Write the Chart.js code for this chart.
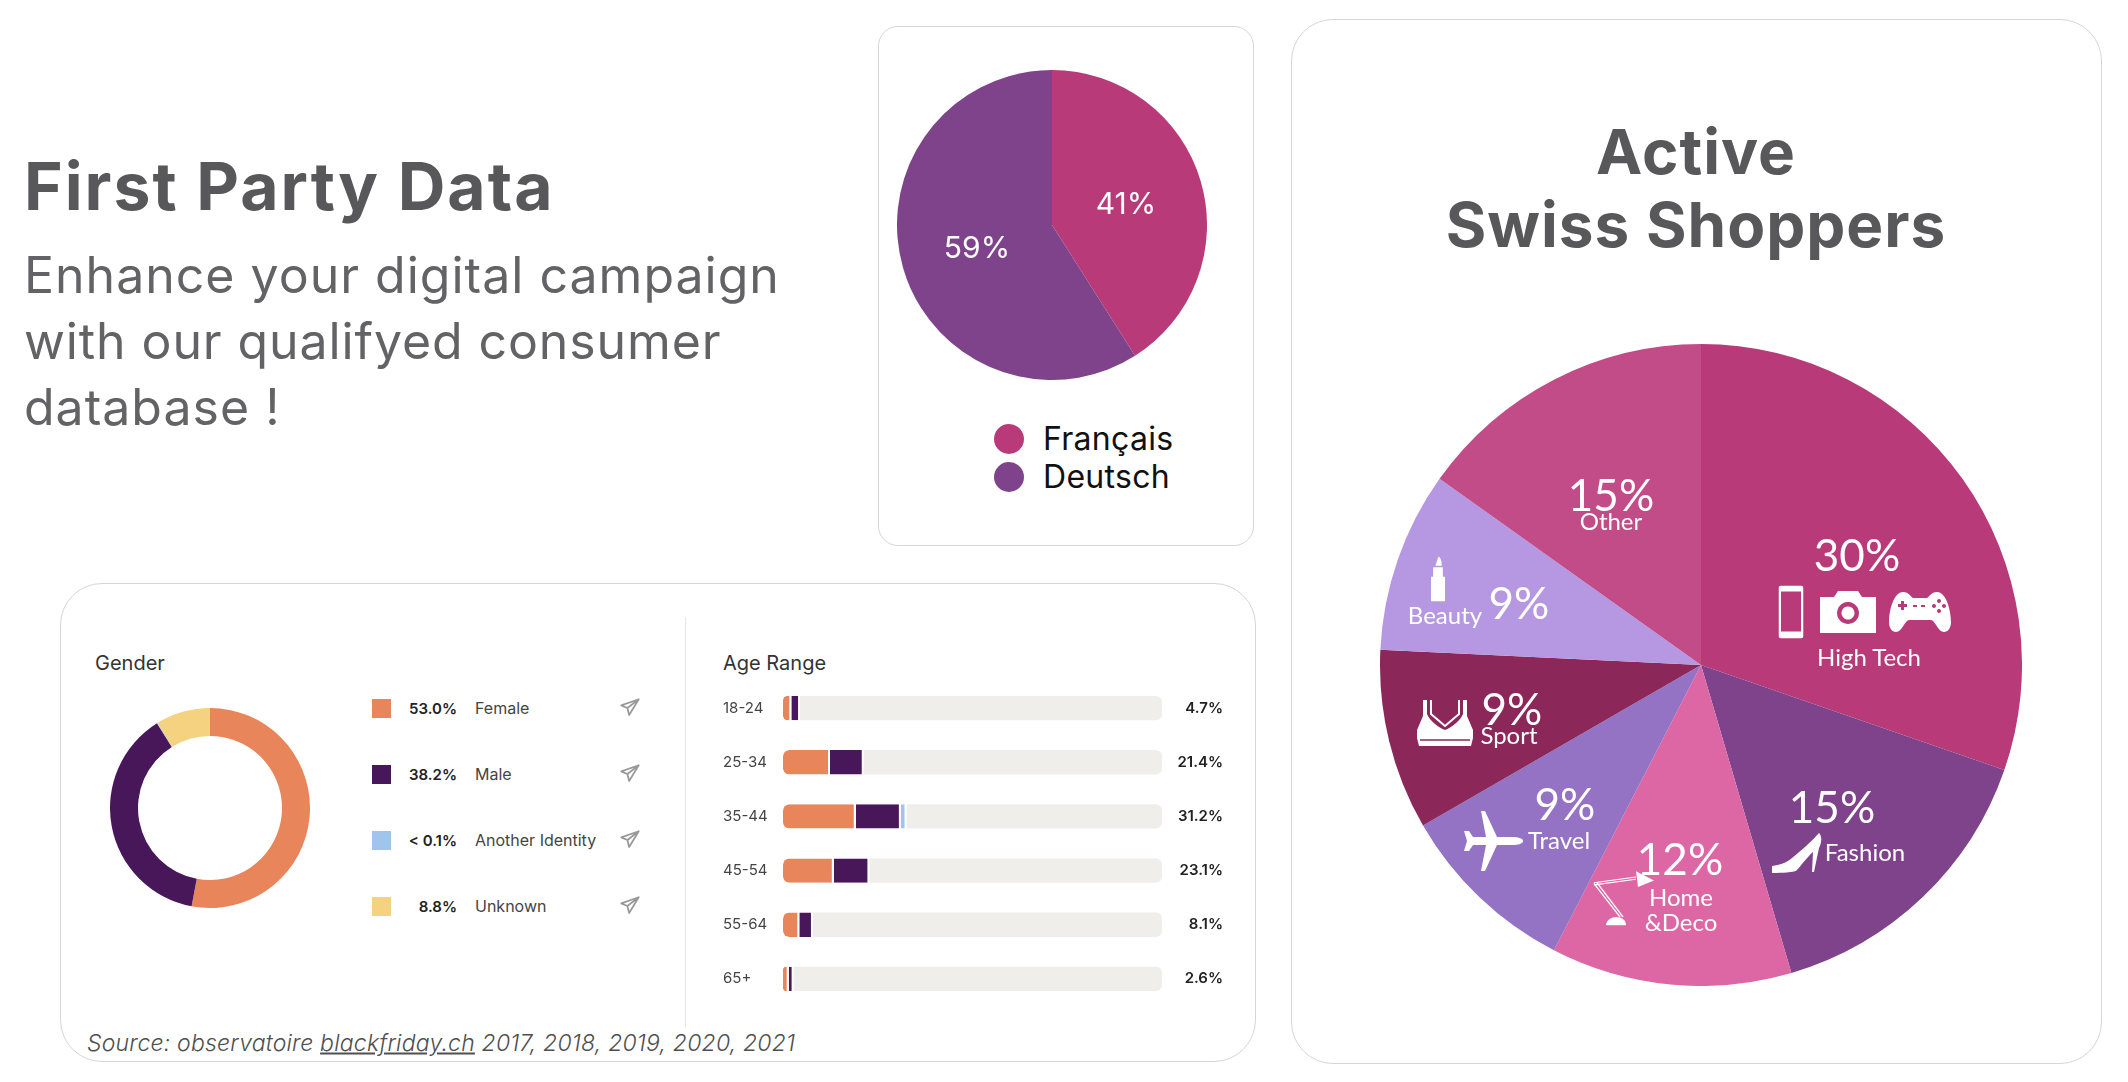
<!DOCTYPE html>
<html>
<head>
<meta charset="utf-8">
<title>First Party Data</title>
<script src="https://cdn.jsdelivr.net/npm/chart.js@4/dist/chart.umd.js"></script>
<style>
  html, body { margin: 0; padding: 0; background: #fff; }
  body { width: 2128px; height: 1082px; position: relative; overflow: hidden; font-family: Inter, sans-serif; }
  .card { position: absolute; box-sizing: border-box; border: 1.5px solid #d6d6d6; background: #fff; }
  canvas { position: absolute; }
  .t { position: absolute; white-space: nowrap; line-height: 1; }
  .c { transform: translate(-50%, -50%); }
  .m { transform: translateY(-50%); }
  .r { transform: translate(-100%, -50%); }
  .big { font-family: Lato, sans-serif; font-weight: 400; color: #fff; }
  .ico { position: absolute; transform: translate(-50%, -50%); fill: #fff; }
</style>
</head>
<body>
<div class="card" style="left:878px;top:26px;width:376px;height:520px;border-radius:20px"></div>
<div class="card" style="left:1291px;top:19px;width:811px;height:1045px;border-radius:42px"></div>
<div class="card" style="left:60px;top:583px;width:1196px;height:479px;border-radius:42px"></div>
<div style="position:absolute;left:685px;top:617px;width:1px;height:410px;background:#e6e6e6"></div>

<div class="t m" style="left:24px;top:186px;font-size:66px;font-weight:700;color:#58585a;letter-spacing:2px">First Party Data</div>
<div class="t m" style="left:24px;top:275px;font-size:50px;color:#636365;letter-spacing:1px">Enhance your digital campaign</div>
<div class="t m" style="left:24px;top:341px;font-size:50px;color:#636365;letter-spacing:.9px">with our qualifyed consumer</div>
<div class="t m" style="left:24px;top:407px;font-size:50px;color:#636365;letter-spacing:1px">database !</div>

<div class="t c" style="left:1696px;top:152px;font-size:62px;font-weight:700;color:#58585a;letter-spacing:1px">Active</div>
<div class="t c" style="left:1696px;top:225px;font-size:62px;font-weight:700;color:#58585a;letter-spacing:1px">Swiss Shoppers</div>

<div class="t m" style="left:87px;top:1043px;font-size:23px;font-style:italic;font-weight:300;color:#4f4f4f;letter-spacing:.2px">Source: observatoire <u>blackfriday.ch</u> 2017, 2018, 2019, 2020, 2021</div>

<div class="t m" style="left:95px;top:663px;font-size:20px;color:#333">Gender</div>
<div class="t m" style="left:723px;top:663px;font-size:20px;color:#333">Age Range</div>

<canvas id="langPie"></canvas>
<canvas id="shopPie"></canvas>
<canvas id="genderDonut"></canvas>
<canvas id="ageBars"></canvas>

<div id="overlay"></div>

<script>
const languageLabels = ["Français", "Deutsch"];
const languageValues = [41, 59];
const languageColors = ["#b93a78", "#7f438c"];

const shopLabels = ["High Tech", "Fashion", "Home\n&Deco", "Travel", "Sport", "Beauty", "Other"];
const shopValues = [30, 15, 12, 9, 9, 9, 15];
const shopColors = ["#b93a78", "#7f438c", "#dd66a4", "#9472c4", "#8b2759", "#b697e2", "#c24c87"];

const genderLabels = ["Female", "Male", "Another Identity", "Unknown"];
const genderValues = [53.0, 38.2, 0.1, 8.8];
const genderText = ["53.0%", "38.2%", "< 0.1%", "8.8%"];
const genderColors = ["#e9855a", "#47175a", "#a0c5ed", "#f4d27f"];

const ageLabels = ["18-24", "25-34", "35-44", "45-54", "55-64", "65+"];
const ageTotals = ["4.7%", "21.4%", "31.2%", "23.1%", "8.1%", "2.6%"];
const ageFemale = [2.2, 12.4, 19.2, 13.4, 4.3, 1.5];
const ageMale = [2.3, 8.9, 11.9, 9.4, 3.6, 1.3];
const ageOther = [0, 0, 1.5, 0, 0, 0];
const ageRest = [95.5, 78.7, 67.4, 77.2, 92.1, 97.2];

function place(id, left, top, w, h) {
  const c = document.getElementById(id);
  c.width = w; c.height = h;
  c.style.left = left + "px";
  c.style.top = top + "px";
  c.style.width = w + "px";
  c.style.height = h + "px";
  return c;
}

function pie(id, cx, cy, r, type, labels, values, colors, cutout) {
  const c = place(id, cx - r, cy - r, r * 2, r * 2);
  new Chart(c, {
    type: type,
    data: { labels: labels, datasets: [{ data: values, backgroundColor: colors, borderWidth: 0 }] },
    options: {
      responsive: false,
      animation: false,
      cutout: cutout,
      layout: { padding: 0 },
      plugins: { legend: { display: false }, tooltip: { enabled: false } }
    }
  });
}

pie("langPie", 1052, 225, 155, "pie", languageLabels, languageValues, languageColors, 0);
pie("shopPie", 1701, 665, 321, "pie", shopLabels, shopValues, shopColors, 0);
pie("genderDonut", 210, 808, 100, "doughnut", genderLabels, genderValues, genderColors, "72%");

const barBase = { borderColor: "#fff", borderWidth: { right: 2 }, borderSkipped: false };
new Chart(place("ageBars", 723, 672, 500, 343), {
  type: "bar",
  data: {
    labels: ageLabels,
    datasets: [
      Object.assign({ data: ageFemale, backgroundColor: genderColors[0], borderRadius: { topLeft: 6, bottomLeft: 6 } }, barBase),
      Object.assign({ data: ageMale, backgroundColor: genderColors[1] }, barBase),
      Object.assign({ data: ageOther, backgroundColor: genderColors[2] }, barBase),
      { data: ageRest, backgroundColor: "#efeeea", borderWidth: 0, borderRadius: { topRight: 6, bottomRight: 6 } }
    ]
  },
  options: {
    responsive: false,
    animation: false,
    indexAxis: "y",
    categoryPercentage: 1,
    barPercentage: 0.45,
    layout: { padding: 0 },
    plugins: { legend: { display: false }, tooltip: { enabled: false } },
    scales: {
      x: { stacked: true, min: 0, max: 100, display: false },
      y: {
        stacked: true,
        grid: { display: false },
        border: { display: false },
        afterFit: function (a) { a.width = 60; },
        ticks: { crossAlign: "far", padding: 0, color: "#444", font: { family: "Inter", size: 15 } }
      },
      y2: {
        type: "category",
        labels: ageTotals,
        position: "right",
        grid: { display: false },
        border: { display: false },
        afterFit: function (a) { a.width = 61; },
        ticks: { crossAlign: "far", padding: 0, color: "#222", font: { family: "Inter", size: 15, weight: "600" } }
      }
    }
  }
});

const overlay = document.getElementById("overlay");
function text(cls, x, y, size, str, style) {
  const d = document.createElement("div");
  d.className = "t " + cls;
  d.style.cssText = "left:" + x + "px;top:" + y + "px;font-size:" + size + "px;" + (style || "");
  d.textContent = str;
  overlay.appendChild(d);
}
function icon(x, y, w, h, vb, body, style) {
  overlay.insertAdjacentHTML("beforeend",
    '<svg class="ico" preserveAspectRatio="none" style="left:' + x + 'px;top:' + y + 'px;' + (style || '') + '" width="' + w + '" height="' + h + '" viewBox="' + vb + '">' + body + '</svg>');
}

// language pie
text("c", 1126, 203, 30, languageValues[0] + "%", "color:#fff");
text("c", 977, 247, 30, languageValues[1] + "%", "color:#fff");
[439, 477].forEach(function (y, i) {
  overlay.insertAdjacentHTML("beforeend", '<div style="position:absolute;left:' + (1009 - 15) + 'px;top:' + (y - 15) + 'px;width:30px;height:30px;border-radius:50%;background:' + languageColors[i] + '"></div>');
  text("m", 1043, y, 32, languageLabels[i], "color:#111;letter-spacing:.3px");
});

// gender legend
const plane = '<path d="M22 2 L2 9 L9 12 L11 20 Z M22 2 L9 12" fill="none" stroke="#999" stroke-width="2" stroke-linejoin="round"/>';
[708, 774, 840, 906].forEach(function (y, i) {
  overlay.insertAdjacentHTML("beforeend", '<div style="position:absolute;left:372px;top:' + (y - 9) + 'px;width:19px;height:19px;background:' + genderColors[i] + '"></div>');
  text("r", 457, y, 15, genderText[i], "font-weight:600;color:#222");
  text("m", 475, y, 16, genderLabels[i], "color:#444");
  icon(630, y, 21, 21, "0 0 24 24", plane, "fill:none");
});

// shop pie percent labels and names
text("c big", 1857, 554, 44, shopValues[0] + "%");
text("c big", 1869, 657, 24, shopLabels[0]);
text("c big", 1832, 806, 44, shopValues[1] + "%");
text("c big", 1865, 852, 24, shopLabels[1]);
text("c big", 1680, 858, 44, shopValues[2] + "%");
text("c big", 1681, 897, 24, "Home");
text("c big", 1681, 922, 24, "&Deco");
text("c big", 1565, 803, 44, shopValues[3] + "%");
text("c big", 1559, 840, 24, shopLabels[3]);
text("c big", 1512, 708, 44, shopValues[4] + "%");
text("c big", 1509, 735, 24, shopLabels[4]);
text("c big", 1519, 602, 44, shopValues[5] + "%");
text("c big", 1445, 615, 24, shopLabels[5]);
text("c big", 1611, 494, 44, shopValues[6] + "%");
text("c big", 1611, 521, 24, shopLabels[6]);

// shop pie pictograms
icon(1791, 612, 25, 53, "0 0 25 53", '<path fill-rule="evenodd" d="M3 0H22a3 3 0 0 1 3 3V50a3 3 0 0 1-3 3H3a3 3 0 0 1-3-3V3A3 3 0 0 1 3 0ZM2.500 6V46H22.500V6Z"/>');
icon(1848, 612, 56, 42, "0 0 56 42", '<path fill-rule="evenodd" d="M0 6H14L18 0H38L42 6H56V42H0ZM28 11a11 11 0 1 0 .01 0ZM28 15.500a6.500 6.500 0 1 1-.01 0Z"/>');
icon(1920, 612, 62, 40, "0 0 62 40", '<path fill-rule="evenodd" d="M14 0C20 0 22 5 24 6H38C40 5 42 0 48 0C57 0 62 18 62 30C62 36 59 40 55 40C49 40 46 28 42 28H20C16 28 13 40 7 40C3 40 0 36 0 30C0 18 5 0 14 0ZM9 12H12V9H15V12H18V15H15V18H12V15H9ZM24 13H28V15H24ZM32 13H36V15H32ZM50 7a2 2 0 1 0 .01 0ZM45 12a2 2 0 1 0 .01 0ZM55 12a2 2 0 1 0 .01 0ZM50 17a2 2 0 1 0 .01 0Z"/>');
icon(1797, 853, 50, 40, "0 0 50 40", '<path d="M47 0C50 3 50 9 47 15L42 39H40L41 19C35 24 29 33 24 38C22 39 10 40 0 40V33C8 32 14 30 20 25C30 17 40 8 47 0Z"/>');
icon(1493, 841, 60, 60, "0 0 60 60", '<path d="M60 30C60 33 54 34 50 34H34L22 60H18L23 34H10L6 40H1L4 30L1 20H6L10 26H23L18 0H22L34 26H50C54 26 60 27 60 30Z"/>');
icon(1445, 723, 56, 46, "0 0 56 46", '<path d="M6 0H10V14C12 20 22 28 28 30C34 28 44 20 46 14V0H50V16L56 30V38L54 46H2L0 38V30L6 16Z"/><path d="M3 40H53" stroke="#8b2759" stroke-width="1.500"/><path d="M14 0V14L28 26L42 14V0" fill="none" stroke="#fff" stroke-width="2"/>');
icon(1438, 579, 14, 45, "0 0 13 58", '<path d="M4 12L7 0C9 2 10 5 10 12ZM2 14H11V26H13V58H0V26H2Z"/>');
icon(1623, 897, 62, 57, "0 0 62 80", '<path d="M2 20L44 12M2 23L44 15M2 21L28 68M5 20L31 68" fill="none" stroke="#fff" stroke-width="1.500"/><path d="M44 4L62 17L46 26Z"/><path d="M14 80C14 72 20 68 24 68C30 68 34 72 34 80Z"/>');
</script>
</body>
</html>
